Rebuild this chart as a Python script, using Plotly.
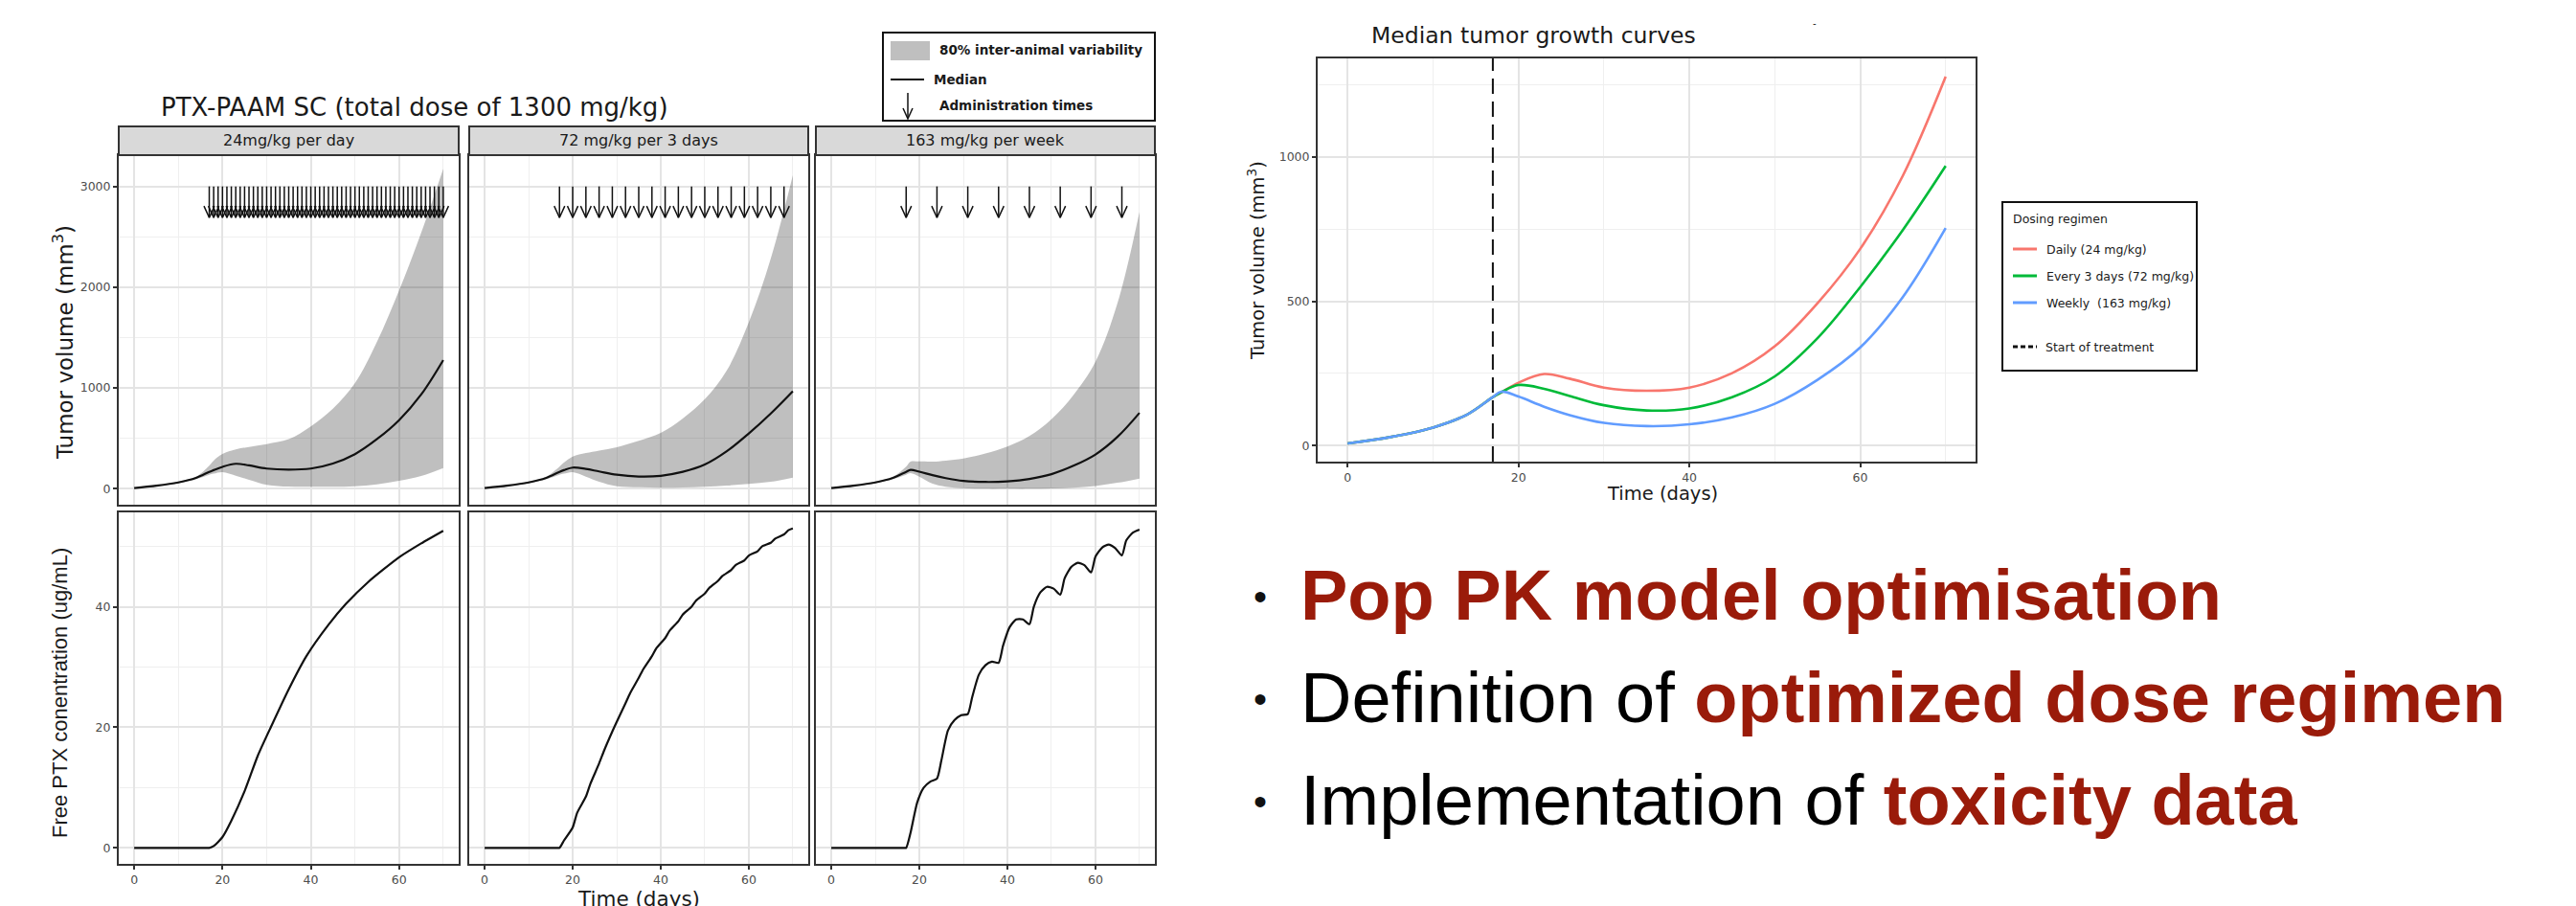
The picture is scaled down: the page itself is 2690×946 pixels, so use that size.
import plotly.graph_objects as go

W, H = 2690, 946

# ---------------- data ----------------
facet_labels = ["24mg/kg per day", "72 mg/kg per 3 days", "163 mg/kg per week"]
regimen_names = ["Daily (24 mg/kg)", "Every 3 days (72 mg/kg)", "Weekly  (163 mg/kg)"]

t_med = [0, 5, 10, 14, 17, 18, 20, 23, 26, 30, 35, 40, 45, 50, 55, 60, 65, 70]
median_daily = [8, 30, 63, 108, 168, 185, 218, 248, 232, 201, 190, 201, 251, 344, 493, 681, 935, 1277]
median_3days = [8, 30, 63, 108, 168, 185, 210, 197, 172, 140, 122, 129, 168, 240, 372, 549, 747, 968]
median_weekly = [8, 30, 63, 108, 168, 187, 170, 135, 106, 79, 68, 74, 98, 145, 228, 340, 515, 753]

p10_daily = [6, 27, 56, 95, 140, 150, 165, 130, 90, 40, 22, 20, 20, 25, 45, 79, 127, 206]
p90_daily = [10, 33, 72, 120, 230, 280, 345, 390, 415, 444, 492, 619, 794, 1048, 1460, 1968, 2540, 3175]
p10_3days = [6, 27, 56, 95, 140, 150, 165, 120, 70, 25, 15, 10, 12, 20, 32, 48, 70, 111]
p90_3days = [10, 33, 72, 120, 220, 260, 320, 355, 380, 413, 476, 555, 698, 889, 1175, 1651, 2286, 3111]
p10_weekly = [6, 27, 56, 95, 140, 155, 120, 50, 20, 6, 0, 0, 0, 3, 10, 28, 60, 102]
p90_weekly = [10, 33, 72, 120, 220, 270, 272, 270, 280, 300, 350, 420, 524, 690, 930, 1260, 1841, 2746]

dose_daily = [17, 18, 19, 20, 21, 22, 23, 24, 25, 26, 27, 28, 29, 30, 31, 32, 33, 34, 35, 36,
              37, 38, 39, 40, 41, 42, 43, 44, 45, 46, 47, 48, 49, 50, 51, 52, 53, 54, 55, 56,
              57, 58, 59, 60, 61, 62, 63, 64, 65, 66, 67, 68, 69, 70]
dose_3days = [17, 20, 23, 26, 29, 32, 35, 38, 41, 44, 47, 50, 53, 56, 59, 62, 65, 68]
dose_weekly = [17, 24, 31, 38, 45, 52, 59, 66]

t_conc_daily = [0, 8, 16.5, 17, 18, 20, 22, 25, 28, 31, 35, 39, 44, 48, 53, 60, 65, 70]
conc_daily = [0, 0, 0, 0, 0.3, 1.8, 4.5, 9.4, 15.3, 20.1, 26.3, 31.8, 37.0, 40.5, 44.1, 48.2, 50.5, 52.6]

t_conc_3days = [0, 8, 16.5, 17, 18, 20, 21, 23, 24, 26, 27, 29, 30, 32, 33, 35, 36, 38, 39, 41, 42, 44,
                45, 47, 48, 50, 51, 53, 54, 56, 57, 59, 60, 62, 63, 65, 66, 68, 69, 70]
conc_3days = [0, 0, 0, 0, 1.2, 3.4, 5.8, 8.5, 10.6, 14.0, 15.9, 19.3, 20.9, 24.0, 25.6, 28.2, 29.6, 31.8,
              33.1, 34.8, 36.0, 37.6, 38.7, 40.0, 41.0, 42.2, 43.1, 44.3, 45.1, 46.1, 46.9, 47.7,
              48.5, 49.2, 50.0, 50.6, 51.3, 52.0, 52.7, 53.0]

t_conc_weekly = [0, 8, 16.5, 17, 18, 19.5, 21, 22.5, 24, 25, 26.5, 28, 29.5, 31, 32, 33.5, 35, 36.5, 38,
                 39, 40.5, 42, 43.5, 45, 46, 47.5, 49, 50.5, 52, 53, 54.5, 56, 57.5, 59, 60,
                 61.5, 63, 64.5, 66, 67, 68.5, 70]
conc_weekly = [0, 0, 0, 0, 2.5, 7.5, 10.0, 11.0, 11.5, 14.5, 19.5, 21.2, 22.0, 22.2, 25.0, 28.7, 30.3,
               30.9, 30.7, 33.5, 36.6, 37.9, 37.9, 37.1, 40.0, 42.4, 43.3, 43.0, 42.0, 44.7, 46.6,
               47.3, 46.9, 45.7, 48.3, 49.8, 50.3, 49.7, 48.5, 51.0, 52.3, 52.8]

x_ticks = [0, 20, 40, 60]
vol_ticks = [0, 1000, 2000, 3000]
conc_ticks = [0, 20, 40]
right_vol_ticks = [0, 500, 1000]
treatment_start = 17

# ---------------- styling ----------------
FONT = "DejaVu Sans"
DARK_RED = "#9A1B0A"
colors = ["#F8766D", "#00BA38", "#619CFF"]
ARROW_TOP, ARROW_TIP, HEAD_H, HEAD_W = 3000, 2690, 115, 1.2


def fx(p):
    return p / W


def fy(p):
    return 1 - p / H


cols = [(124, 479), (490, 844), (852, 1206)]
rows = [(162, 527), (535, 902)]

fig = go.Figure()

medians = [median_daily, median_3days, median_weekly]
lows = [p10_daily, p10_3days, p10_weekly]
highs = [p90_daily, p90_3days, p90_weekly]
doses = [dose_daily, dose_3days, dose_weekly]
concs = [(t_conc_daily, conc_daily), (t_conc_3days, conc_3days), (t_conc_weekly, conc_weekly)]

for c in range(3):
    n = c + 1
    xa = "x" if n == 1 else f"x{n}"
    ya = "y" if n == 1 else f"y{n}"
    fig.add_trace(go.Scatter(x=t_med, y=lows[c], mode="lines", line=dict(width=0, shape="spline"),
                             xaxis=xa, yaxis=ya, showlegend=False, hoverinfo="skip"))
    fig.add_trace(go.Scatter(x=t_med, y=highs[c], mode="lines", line=dict(width=0, shape="spline"),
                             fill="tonexty", fillcolor="rgba(0,0,0,0.25)",
                             xaxis=xa, yaxis=ya, showlegend=False, hoverinfo="skip"))
    fig.add_trace(go.Scatter(x=t_med, y=medians[c], mode="lines",
                             line=dict(color="#111111", width=2.2, shape="spline"),
                             xaxis=xa, yaxis=ya, showlegend=False))
    ax_x, ax_y = [], []
    for t in doses[c]:
        ax_x += [t, t, None, t - HEAD_W, t, t + HEAD_W, None]
        ax_y += [ARROW_TOP, ARROW_TIP, None, ARROW_TIP + HEAD_H, ARROW_TIP, ARROW_TIP + HEAD_H, None]
    fig.add_trace(go.Scatter(x=ax_x, y=ax_y, mode="lines", line=dict(color="#111111", width=1.5),
                             xaxis=xa, yaxis=ya, showlegend=False, hoverinfo="skip"))
    n2 = c + 4
    tc, vc = concs[c]
    fig.add_trace(go.Scatter(x=tc, y=vc, mode="lines",
                             line=dict(color="#111111", width=2.2, shape="spline", smoothing=0.6),
                             xaxis=f"x{n2}", yaxis=f"y{n2}", showlegend=False))

# right chart
for name, med, col in zip(regimen_names, medians, colors):
    fig.add_trace(go.Scatter(x=t_med, y=med, mode="lines", name=name,
                             line=dict(color=col, width=2.6, shape="spline"),
                             xaxis="x7", yaxis="y7", showlegend=False))

common = dict(showline=True, mirror=True, linecolor="#333333", linewidth=2, showgrid=True,
              gridcolor="#E4E4E4", gridwidth=1.5, zeroline=False, ticks="outside", ticklen=4,
              tickcolor="#333333", tickwidth=1.5,
              tickfont=dict(family=FONT, size=12.5, color="#4D4D4D"))

layout = dict(width=W, height=H, margin=dict(l=0, r=0, t=0, b=0), paper_bgcolor="white",
              plot_bgcolor="white", showlegend=False)

for r in range(2):
    for c in range(3):
        n = r * 3 + c + 1
        sx = "" if n == 1 else str(n)
        xd = dict(common, domain=[fx(cols[c][0]), fx(cols[c][1])], anchor=f"y{sx}",
                  range=[-3.5, 73.5], tickvals=x_ticks,
                  minor=dict(dtick=10, tick0=0, showgrid=True, gridcolor="#EFEFEF", gridwidth=1))
        if r == 0:
            xd.update(showticklabels=False, ticks="")
        yd = dict(common, domain=[fy(rows[r][1]), fy(rows[r][0])], anchor=f"x{sx}")
        if r == 0:
            yd.update(range=[-158, 3310], tickvals=vol_ticks,
                      minor=dict(dtick=500, tick0=0, showgrid=True, gridcolor="#EFEFEF", gridwidth=1))
        else:
            yd.update(range=[-2.65, 55.65], tickvals=conc_ticks,
                      minor=dict(dtick=10, tick0=0, showgrid=True, gridcolor="#EFEFEF", gridwidth=1))
        if c > 0:
            yd.update(showticklabels=False, ticks="")
        layout[f"xaxis{sx}"] = xd
        layout[f"yaxis{sx}"] = yd

layout["xaxis7"] = dict(common, domain=[fx(1376), fx(2063)], anchor="y7", range=[-3.5, 73.5],
                        tickvals=x_ticks,
                        minor=dict(dtick=10, tick0=0, showgrid=True, gridcolor="#EFEFEF", gridwidth=1))
layout["yaxis7"] = dict(common, domain=[fy(482), fy(61)], anchor="x7", range=[-55, 1340],
                        tickvals=right_vol_ticks,
                        minor=dict(dtick=250, tick0=0, showgrid=True, gridcolor="#EFEFEF", gridwidth=1))

shapes = []
annotations = []


def text(x, y, s, size, family=FONT, color="#1a1a1a", xanchor="left", yanchor="middle", angle=0):
    annotations.append(dict(x=fx(x), y=fy(y), xref="paper", yref="paper", text=s, showarrow=False,
                            xanchor=xanchor, yanchor=yanchor, textangle=angle,
                            font=dict(family=family, size=size, color=color)))


# facet strips
for c in range(3):
    shapes.append(dict(type="rect", xref="paper", yref="paper", x0=fx(cols[c][0]), x1=fx(cols[c][1]),
                       y0=fy(162), y1=fy(132), fillcolor="#D9D9D9", line=dict(color="#333333", width=2)))
    text((cols[c][0] + cols[c][1]) / 2, 147, facet_labels[c], 16, color="#1a1a1a", xanchor="center")

# left title and axis titles
text(166, 112, "PTX-PAAM SC (total dose of 1300 mg/kg)", 26)
text(66, 358, "Tumor volume (mm<sup>3</sup>)", 23, xanchor="center", angle=-90)
text(62, 724, "Free PTX conentration (ug/mL)", 22, family="Liberation Sans", xanchor="center", angle=-90)
text(667, 938, "Time (days)", 21.5, xanchor="center")

# left legend
shapes.append(dict(type="rect", xref="paper", yref="paper", x0=fx(922), x1=fx(1206), y0=fy(126), y1=fy(34),
                   fillcolor="white", line=dict(color="#111111", width=2)))
shapes.append(dict(type="rect", xref="paper", yref="paper", x0=fx(930), x1=fx(971), y0=fy(63), y1=fy(43),
                   fillcolor="rgb(191,191,191)", line=dict(width=0)))
shapes.append(dict(type="line", xref="paper", yref="paper", x0=fx(930), x1=fx(965), y0=fy(83), y1=fy(83),
                   line=dict(color="#111111", width=2)))
shapes.append(dict(type="line", xref="paper", yref="paper", x0=fx(948), x1=fx(948), y0=fy(97), y1=fy(124),
                   line=dict(color="#111111", width=1.5)))
shapes.append(dict(type="path", xref="paper", yref="paper",
                   path=f"M{fx(943)},{fy(113)} L{fx(948)},{fy(124)} L{fx(953)},{fy(113)}",
                   line=dict(color="#111111", width=1.5)))
text(979, 52, "<b>80% inter-animal variability</b>", 13.5)
text(973, 83, "<b>Median</b>", 13.5)
text(979, 110, "<b>Administration times</b>", 13.5)

# right chart
shapes.append(dict(type="line", xref="x7", yref="y7 domain", x0=treatment_start, x1=treatment_start,
                   y0=0, y1=1, line=dict(color="#111111", width=2, dash="16px,8px")))
text(1430, 37, "Median tumor growth curves", 23.5)
text(1891, 25, "-", 10)
text(1312, 272, "Tumor volume (mm<sup>3</sup>)", 19.5, xanchor="center", angle=-90)
text(1736, 515, "Time (days)", 19.5, xanchor="center")

shapes.append(dict(type="rect", xref="paper", yref="paper", x0=fx(2091), x1=fx(2294), y0=fy(387), y1=fy(211),
                   fillcolor="white", line=dict(color="#111111", width=2)))
text(2100, 229, "Dosing regimen", 12.5)
for i, (name, col) in enumerate(zip(regimen_names, colors)):
    yy = 260 + 28 * i
    shapes.append(dict(type="line", xref="paper", yref="paper", x0=fx(2102), x1=fx(2127), y0=fy(yy), y1=fy(yy),
                       line=dict(color=col, width=3)))
    text(2135, yy, name, 12.5)
shapes.append(dict(type="line", xref="paper", yref="paper", x0=fx(2102), x1=fx(2127), y0=fy(362), y1=fy(362),
                   line=dict(color="#111111", width=3, dash="5px,3px")))
text(2134, 362, "Start of treatment", 12.5)

# bullets
bullets = [
    f"<b><span style='color:{DARK_RED}'>Pop PK model optimisation</span></b>",
    f"Definition of <b><span style='color:{DARK_RED}'>optimized dose regimen</span></b>",
    f"Implementation of <b><span style='color:{DARK_RED}'>toxicity data</span></b>",
]
for i, b in enumerate(bullets):
    yc = 621 + 107 * i
    text(1316, yc + 2, "•", 40, family="Liberation Sans", color="#111111", xanchor="center")
    text(1356, yc, b, 74, family="Liberation Sans", color="#000000")

layout["shapes"] = shapes
layout["annotations"] = annotations
fig.update_layout(**layout)

fig.write_html("out.html", config={"displayModeBar": False},
               post_script="document.body.style.margin='0';document.body.style.overflow='hidden';")
